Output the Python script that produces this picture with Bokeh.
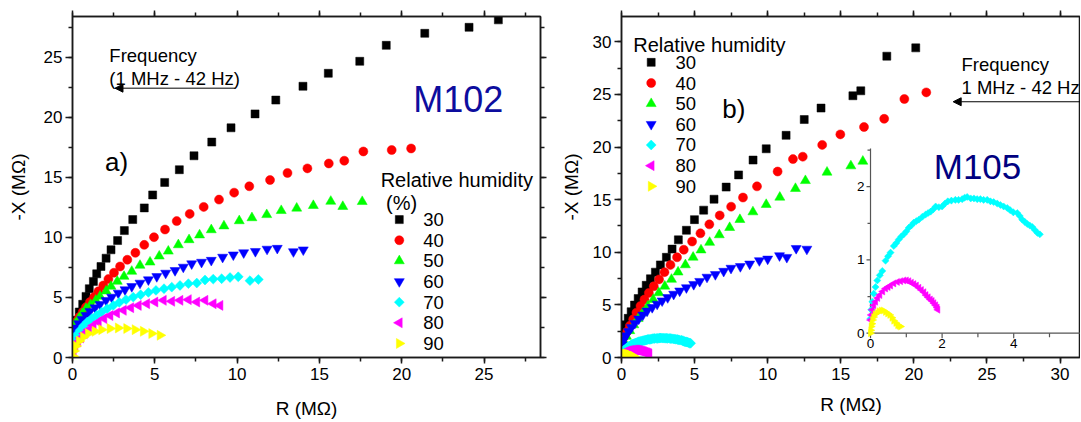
import math
from bokeh.plotting import figure
from bokeh.layouts import row
from bokeh.core.properties import value
from bokeh.models import (Range1d, LinearAxis, SingleIntervalTicker, Label, Arrow, NormalHead)
from bokeh.embed import file_html
from bokeh.resources import INLINE

FONT = "Liberation Sans"

humidity = ["30", "40", "50", "60", "70", "80", "90"]

# ---------------- M102 (panel a) : R (MOhm), -X (MOhm) ----------------
a_r30 = [0.05, 0.12, 0.25, 0.41, 0.62, 0.82, 1.02, 1.27, 1.47, 1.73, 2.04, 2.34, 2.74, 3.15, 3.66, 4.36,
         4.87, 5.60, 6.49, 7.38, 8.46, 9.63, 11.09, 12.35, 14.0, 15.54, 17.45, 19.06, 21.4, 24.09, 25.87]
a_x30 = [2.2, 2.5, 3.1, 3.79, 4.43, 5.09, 5.73, 6.34, 6.97, 7.58, 8.27, 8.97, 9.74, 10.57, 11.49, 12.46,
         13.54, 14.58, 15.64, 16.80, 17.94, 19.13, 20.29, 21.44, 22.59, 23.67, 24.67, 26.0, 27.0, 27.5, 28.12]
a_r40 = [0.03, 0.09, 0.25, 0.41, 0.62, 0.82, 1.06, 1.31, 1.57, 1.87, 2.18, 2.52, 2.89, 3.33, 3.82, 4.36,
         4.95, 5.62, 6.33, 7.12, 7.97, 8.9, 9.82, 10.74, 12.0, 13.06, 14.27, 15.57, 16.51, 17.67, 19.39, 20.57]
a_x40 = [2.0, 2.6, 3.01, 3.37, 3.79, 4.2, 4.62, 5.03, 5.51, 6.0, 6.53, 7.06, 7.58, 8.14, 8.72, 9.38,
         10.02, 10.66, 11.36, 11.96, 12.54, 13.15, 13.73, 14.26, 14.78, 15.37, 15.75, 16.16, 16.39, 17.16, 17.28, 17.41]
a_r50 = [0.05, 0.17, 0.38, 0.58, 0.82, 1.1, 1.41, 1.67, 2.04, 2.34, 2.72, 3.13, 3.6, 4.1, 4.71, 5.27,
         5.82, 6.43, 7.08, 7.72, 8.43, 9.2, 10.13, 10.9, 11.8, 12.68, 13.62, 14.63, 15.69, 16.42, 17.6]
a_x50 = [2.1, 2.82, 3.24, 3.65, 4.07, 4.4, 4.76, 5.09, 5.53, 5.92, 6.34, 6.75, 7.17, 7.67, 7.94, 8.44,
         8.85, 9.38, 9.8, 10.2, 10.63, 10.95, 11.38, 11.63, 11.89, 12.23, 12.43, 12.65, 13.0, 12.57, 12.98]
a_r60 = [0.03, 0.09, 0.21, 0.38, 0.58, 0.82, 1.06, 1.37, 1.67, 2.04, 2.38, 2.78, 3.19, 3.6, 4.1, 4.61,
         5.12, 5.66, 6.23, 6.73, 7.24, 7.84, 8.43, 9.12, 9.77, 10.4, 11.11, 11.82, 12.44, 13.42, 14.02]
a_x60 = [1.6, 2.08, 2.46, 2.82, 3.18, 3.51, 3.85, 4.15, 4.43, 4.76, 5.03, 5.37, 5.65, 5.92, 6.2, 6.48,
         6.75, 7.03, 7.25, 7.53, 7.81, 7.94, 8.1, 8.36, 8.55, 8.73, 8.84, 9.03, 9.1, 8.82, 8.97]
a_r70 = [0.05, 0.15, 0.29, 0.46, 0.66, 0.9, 1.17, 1.47, 1.77, 2.11, 2.48, 2.84, 3.25, 3.69, 4.14,
         4.61, 5.07, 5.56, 6.03, 6.53, 7.04, 7.55, 8.05, 8.55, 9.06, 9.57, 10.07, 10.78, 11.29]
a_x70 = [1.16, 1.58, 1.94, 2.27, 2.63, 2.96, 3.24, 3.51, 3.79, 4.07, 4.34, 4.59, 4.82, 5.03, 5.23,
         5.42, 5.59, 5.73, 5.86, 6.0, 6.15, 6.2, 6.45, 6.53, 6.56, 6.66, 6.72, 6.4, 6.5]
a_r80 = [0.05, 0.15, 0.32, 0.5, 0.72, 0.98, 1.26, 1.57, 1.91, 2.28, 2.68, 3.09, 3.54, 4.0, 4.51,
         5.01, 5.52, 6.03, 6.53, 7.04, 7.55, 8.05, 8.55, 8.96]
a_x80 = [0.47, 0.88, 1.3, 1.63, 1.99, 2.32, 2.66, 2.96, 3.24, 3.49, 3.71, 3.93, 4.15, 4.34, 4.48,
         4.62, 4.76, 4.68, 4.76, 4.82, 4.62, 4.76, 4.48, 4.34]
a_r90 = [0.03, 0.09, 0.21, 0.41, 0.66, 0.96, 1.37, 1.77, 2.28, 2.78, 3.29, 3.8, 4.3, 4.81, 5.32]
a_x90 = [0.1, 0.55, 0.96, 1.38, 1.71, 1.99, 2.18, 2.32, 2.41, 2.46, 2.41, 2.32, 2.18, 1.99, 1.85]

# ---------------- M105 (panel b) ----------------
b_r30 = [0.05, 0.16, 0.3, 0.46, 0.66, 0.89, 1.14, 1.41, 1.69, 1.98, 2.32, 2.66, 3.07, 3.46, 3.89,
         4.44, 4.99, 5.62, 6.33, 7.16, 8.01, 9.0, 9.9, 11.26, 12.5, 13.65, 15.83, 16.37, 18.15, 20.13]
b_x30 = [1.7, 2.47, 3.1, 3.72, 4.35, 4.98, 5.6, 6.23, 6.86, 7.48, 8.11, 8.8, 9.52, 10.3, 11.18,
         12.09, 13.1, 14.0, 15.04, 16.19, 17.35, 18.76, 19.83, 21.11, 22.61, 23.7, 24.87, 25.34, 28.63, 29.42]
b_r40 = [0.06, 0.2, 0.39, 0.57, 0.8, 1.02, 1.3, 1.57, 1.87, 2.21, 2.57, 2.94, 3.35, 3.8, 4.26,
         4.83, 5.4, 6.01, 6.72, 7.5, 8.31, 9.27, 10.68, 11.73, 12.4, 13.73, 14.97, 16.59, 17.97, 19.35, 20.85]
b_x40 = [1.5, 2.0, 2.47, 3.01, 3.63, 4.26, 4.89, 5.51, 6.14, 6.77, 7.42, 8.11, 8.8, 9.52, 10.24,
         11.02, 11.8, 12.65, 13.5, 14.33, 15.2, 16.26, 17.67, 18.85, 19.08, 20.2, 21.2, 21.9, 22.68, 24.56, 25.19]
b_r50 = [0.05, 0.16, 0.34, 0.57, 0.84, 1.14, 1.46, 1.8, 2.17, 2.55, 2.96, 3.42, 3.87, 4.37,
         4.9, 5.44, 6.03, 6.69, 7.4, 8.1, 8.99, 9.9, 10.83, 11.9, 12.58, 14.06, 15.69, 16.51]
b_x50 = [1.1, 1.53, 2.0, 2.54, 3.1, 3.69, 4.26, 4.89, 5.51, 6.14, 6.77, 7.42, 8.11, 8.8,
         9.52, 10.21, 10.93, 11.65, 12.34, 13.1, 13.83, 14.53, 15.22, 16.05, 16.8, 17.6, 18.2, 18.64]
b_r60 = [0.05, 0.16, 0.29, 0.48, 0.68, 0.91, 1.18, 1.46, 1.75, 2.1, 2.44, 2.78, 3.16, 3.57, 3.98,
         4.44, 4.94, 5.35, 5.85, 6.42, 6.99, 7.49, 8.13, 8.77, 9.43, 10.0, 10.81, 11.31, 11.95, 12.68]
b_x60 = [1.2, 1.69, 2.07, 2.47, 2.85, 3.25, 3.67, 4.04, 4.42, 4.76, 5.08, 5.39, 5.7, 6.02, 6.33,
         6.64, 6.95, 7.24, 7.64, 7.89, 8.2, 8.49, 8.65, 8.89, 9.21, 9.36, 9.68, 9.52, 10.37, 10.3]
b_r70 = [0.0, 0.02, 0.05, 0.09, 0.14, 0.19, 0.26, 0.33, 0.42, 0.49, 0.56, 0.65, 0.72, 0.79, 0.86, 0.93,
         1.0, 1.07, 1.14, 1.21, 1.28, 1.35, 1.45, 1.54, 1.61, 1.68, 1.75, 1.82, 1.91, 2.0, 2.08, 2.16,
         2.26, 2.37, 2.46, 2.56, 2.63, 2.7, 2.8, 2.89, 2.98, 3.07, 3.16, 3.26, 3.35, 3.44, 3.54, 3.63,
         3.72, 3.82, 3.9, 3.99, 4.1, 4.17, 4.24, 4.31, 4.38, 4.45, 4.52, 4.59, 4.66, 4.73]
b_x70 = [0.2, 0.32, 0.43, 0.54, 0.63, 0.72, 0.79, 0.85, 0.99, 1.05, 1.1, 1.19, 1.23, 1.28, 1.32, 1.35,
         1.39, 1.44, 1.47, 1.51, 1.53, 1.55, 1.59, 1.62, 1.64, 1.66, 1.69, 1.73, 1.72, 1.73, 1.77, 1.8,
         1.81, 1.82, 1.82, 1.83, 1.85, 1.86, 1.84, 1.84, 1.83, 1.83, 1.82, 1.82, 1.80, 1.79, 1.77, 1.75,
         1.73, 1.71, 1.68, 1.65, 1.64, 1.6, 1.55, 1.52, 1.49, 1.47, 1.45, 1.41, 1.37, 1.35]
b_r80 = [0.0, 0.02, 0.05, 0.09, 0.14, 0.2, 0.26, 0.34, 0.42, 0.49, 0.56, 0.65, 0.75, 0.84, 0.93, 1.0,
         1.07, 1.14, 1.21, 1.28, 1.35, 1.42, 1.49, 1.55, 1.61, 1.67, 1.72, 1.77, 1.82, 1.86, 1.88]
b_x80 = [0.18, 0.25, 0.32, 0.38, 0.43, 0.48, 0.52, 0.57, 0.61, 0.63, 0.65, 0.68, 0.7, 0.71, 0.72, 0.72,
         0.71, 0.69, 0.67, 0.65, 0.62, 0.59, 0.56, 0.52, 0.49, 0.46, 0.44, 0.41, 0.38, 0.35, 0.32]
b_r90 = [0.0, 0.01, 0.02, 0.04, 0.06, 0.09, 0.13, 0.19, 0.24, 0.3, 0.36, 0.42, 0.48, 0.54, 0.6,
         0.65, 0.71, 0.76, 0.8, 0.84]
b_x90 = [0.0, 0.04, 0.09, 0.13, 0.18, 0.22, 0.26, 0.28, 0.3, 0.31, 0.31, 0.29, 0.27, 0.25, 0.21,
         0.17, 0.14, 0.11, 0.1, 0.09]

# inset axis ticks
inset_x_major = [0, 2, 4]
inset_x_minor = [1, 3, 5]
inset_y_major = [0, 1, 2]
inset_y_minor = [0.5, 1.5, 2.5]

a_series = [(a_r30, a_x30), (a_r40, a_x40), (a_r50, a_x50), (a_r60, a_x60),
            (a_r70, a_x70), (a_r80, a_x80), (a_r90, a_x90)]
b_series = [(b_r30, b_x30), (b_r40, b_x40), (b_r50, b_x50), (b_r60, b_x60),
            (b_r70, b_x70), (b_r80, b_x80), (b_r90, b_x90)]

# styles
colors = ["#000000", "#ff0000", "#00ff00", "#0000ff", "#00ffff", "#ff00ff", "#ffff00"]
markers = ["square", "circle", "triangle", "inverted_triangle", "square", "triangle", "triangle"]
angles = [0, 0, 0, 0, math.pi / 4, math.pi / 2, -math.pi / 2]
sizes = [8, 9, 10, 10, 7, 10, 10]
inset_sizes = [6, 6, 7, 7, 5, 7, 7]
AX = "#1a1a1a"
IAX = "#555555"


def style_axis(ax, major_out, minor_out, tick_px, standoff, label_px="19px", label_standoff=10, lw=1.5, color=AX):
    ax.major_tick_in = 0
    ax.major_tick_out = major_out
    ax.minor_tick_in = 0
    ax.minor_tick_out = minor_out
    ax.major_tick_line_width = lw
    ax.minor_tick_line_width = lw
    ax.major_tick_line_color = color
    ax.minor_tick_line_color = color
    ax.axis_line_width = lw
    ax.axis_line_color = color
    ax.major_label_text_font = FONT
    ax.major_label_text_font_size = tick_px
    ax.major_label_text_color = "black"
    ax.major_label_standoff = standoff
    ax.axis_label_text_font = FONT
    ax.axis_label_text_font_size = label_px
    ax.axis_label_text_font_style = "normal"
    ax.axis_label_text_color = "black"
    ax.axis_label_standoff = label_standoff


def blank_axis(interval):
    ax = LinearAxis(ticker=SingleIntervalTicker(interval=interval, num_minor_ticks=2))
    style_axis(ax, 6, 4, "1px", 0)
    ax.major_label_text_alpha = 0
    return ax


def make_panel(width, height, xmax, ymax, mbl, mbr, mbt, mbb, with_right, xl_standoff, yl_standoff):
    p = figure(width=width, height=height, x_range=Range1d(0, xmax), y_range=Range1d(0, ymax),
               output_backend="svg", toolbar_location=None,
               min_border_left=mbl, min_border_right=mbr, min_border_top=mbt, min_border_bottom=mbb)
    p.xgrid.visible = False
    p.ygrid.visible = False
    p.outline_line_color = AX
    p.outline_line_width = 1.5
    p.xaxis[0].ticker = SingleIntervalTicker(interval=5, num_minor_ticks=2)
    p.yaxis[0].ticker = SingleIntervalTicker(interval=5, num_minor_ticks=2)
    p.xaxis[0].axis_label = "R (M\u03a9)"
    p.yaxis[0].axis_label = "-X (M\u03a9)"
    style_axis(p.xaxis[0], 6, 4, "17px", 4, label_standoff=xl_standoff)
    style_axis(p.yaxis[0], 7, 4, "17px", 3, label_standoff=yl_standoff)
    p.add_layout(blank_axis(5), "above")
    if with_right:
        p.add_layout(blank_axis(5), "right")
    return p


def add_series(p, series, sz, **kw):
    for (xs, ys), c, m, a, s in zip(series, colors, markers, angles, sz):
        if len(xs):
            p.scatter(xs, ys, marker=m, size=s, angle=a, fill_color=c, line_color=c, line_width=0.5, **kw)


def add_legend(p, fw, fh, gx, top, pitch, lx):
    # legend drawn on a pixel-based range pair of the frame (origin = frame bottom-left)
    p.extra_x_ranges["lx"] = Range1d(0, fw)
    p.extra_y_ranges["ly"] = Range1d(0, fh)
    ys = [top - i * pitch for i in range(len(humidity))]
    for yy, c, m, a, s in zip(ys, colors, markers, angles, sizes):
        p.scatter([gx], [yy], marker=m, size=s, angle=a, fill_color=c, line_color=c, line_width=0.5,
                  x_range_name="lx", y_range_name="ly")
    p.text(x=[lx] * len(ys), y=ys, text=humidity, text_align="left", text_baseline="middle",
           text_font=value(FONT), text_font_size=value("18.5px"), text_color="black",
           x_range_name="lx", y_range_name="ly")


def txt(p, x, y, s, size="18.5px", color="black"):
    p.add_layout(Label(x=x, y=y, text=s, text_font=FONT, text_font_size=size, text_color=color,
                       text_align="left", text_baseline="alphabetic"))


def arrow(p, x0, x1, y):
    p.add_layout(Arrow(end=NormalHead(size=8, fill_color="black", line_color="black", line_width=1),
                       x_start=x0, y_start=y, x_end=x1, y_end=y, line_width=1, line_color="black"))


# ---- panel a ----
p1 = make_panel(553, 422, 28.43, 28.4, 72, 13, 15, 65, True, 15, 12)
add_series(p1, a_series, sizes)
add_legend(p1, 468, 342, 326.8, 138.3, 20.7, 350.8)
txt(p1, 18.72, 14.81, "Relative humidity", "20px")
txt(p1, 19.05, 12.84, "(%)", "20px")
txt(p1, 2.24, 25.16, "Frequency")
txt(p1, 2.24, 23.2, "(1 MHz - 42 Hz)")
arrow(p1, 9.87, 2.58, 22.43)
txt(p1, 1.97, 16.25, "a)", "26px")
txt(p1, 20.7, 21.5, "M102", "36px", "#0d0d9e")

# ---- panel b ----
p2 = make_panel(527, 422, 31.4, 32.4, 68, 0, 16, 61, False, 11, 8)
add_series(p2, b_series, sizes)
add_legend(p2, 459, 345, 29.7, 298.6, 20.9, 54.0)
txt(p2, 0.8, 29.73, "Relative humidity", "20px")
txt(p2, 6.89, 23.62, "b)", "26px")
txt(p2, 23.26, 27.85, "Frequency")
txt(p2, 23.26, 25.7, "1 MHz - 42 Hz")
arrow(p2, 31.5, 22.69, 24.3)
txt(p2, 21.36, 18.14, "M105", "35px", "#000080")

# ---- inset (70, 80, 90 %) drawn in panel b on its own ranges ----
IX_MAX, IY_MAX = 5.866, 2.52
p2.extra_x_ranges["ix"] = Range1d(-6.956, IX_MAX)
p2.extra_y_ranges["iy"] = Range1d(-0.332, 4.324)
ikw = dict(x_range_name="ix", y_range_name="iy")
p2.segment(x0=[0, 0], y0=[0, 0], x1=[0, IX_MAX], y1=[IY_MAX, 0], line_color=IAX, line_width=1.2, **ikw)
p2.ray(x=[0] * 3, y=inset_y_major, length=4, length_units="screen", angle=math.pi,
       line_color=IAX, line_width=1.2, **ikw)
p2.ray(x=[0] * 3, y=inset_y_minor, length=3, length_units="screen", angle=math.pi,
       line_color=IAX, line_width=1.2, **ikw)
p2.ray(x=inset_x_major, y=[0] * 3, length=5, length_units="screen", angle=-math.pi / 2,
       line_color=IAX, line_width=1.2, **ikw)
p2.ray(x=inset_x_minor, y=[0] * 3, length=4, length_units="screen", angle=-math.pi / 2,
       line_color=IAX, line_width=1.2, **ikw)
p2.text(x=[0] * 3, y=inset_y_major, text=[str(v) for v in inset_y_major], x_offset=-6,
        text_align="right", text_baseline="middle", text_font=value(FONT),
        text_font_size=value("13.5px"), text_color="black", **ikw)
p2.text(x=inset_x_major, y=[0] * 3, text=[str(v) for v in inset_x_major], y_offset=6,
        text_align="center", text_baseline="top", text_font=value(FONT),
        text_font_size=value("13.5px"), text_color="black", **ikw)
add_series(p2, [((), ())] * 4 + b_series[4:], inset_sizes, **ikw)

layout = row(p1, p2, spacing=0)
open("out.html", "w").write(file_html(layout, INLINE))
